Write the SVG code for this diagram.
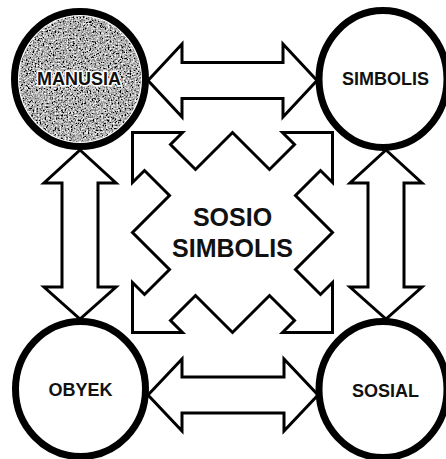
<svg xmlns="http://www.w3.org/2000/svg" width="446" height="459" viewBox="0 0 446 459">
  <defs>
    <style>
      .node { fill: #ffffff; stroke: #000000; stroke-width: 7; }
      .link { fill: #ffffff; stroke: #000000; stroke-width: 3; stroke-linejoin: miter; }
      .label { font-family: "Liberation Sans", Arial, sans-serif; font-weight: bold; font-size: 18px; fill: #111111; text-anchor: middle; }
      .big { font-size: 25px; }
      .halo { stroke: #ffffff; stroke-width: 3; paint-order: stroke; stroke-linejoin: round; }
    </style>
    <!-- coarse grey grain for the shaded node -->
    <filter id="grain" x="0" y="0" width="100%" height="100%">
      <feTurbulence type="fractalNoise" baseFrequency="0.6" numOctaves="3" seed="7" result="noise"/>
      <feColorMatrix in="noise" type="matrix" values="0.33 0.33 0.33 0 0  0.33 0.33 0.33 0 0  0.33 0.33 0.33 0 0  0 0 0 0 1"/>
      <feComponentTransfer>
        <feFuncR type="linear" slope="3.8" intercept="-1.45"/>
        <feFuncG type="linear" slope="3.8" intercept="-1.45"/>
        <feFuncB type="linear" slope="3.8" intercept="-1.45"/>
      </feComponentTransfer>
      <feComposite operator="in" in2="SourceGraphic"/>
    </filter>
  </defs>

  <rect width="446" height="459" fill="#ffffff"/>

  <!-- double-headed block arrows between the outer nodes -->
  <g id="connectors">
    <path class="link" d="M148,80.5 L182,44 V62.5 H283 V44 L317,80.5 L283,117 V98.5 H182 V117 Z"/>
    <path class="link" d="M148,395 L182,359 V377 H284 V359 L318,395 L284,431 V413 H182 V431 Z"/>
    <path class="link" d="M80,150 L116,183 H98 V287 H116 L80,319 L44,287 H62 V183 H44 Z"/>
    <path class="link" d="M386,150 L422,183 H404 V287 H422 L386,319 L350,287 H368 V183 H350 Z"/>
  </g>

  <!-- central four-way star -->
  <g id="sosio-simbolis">
    <path class="link" transform="translate(232.5,232.5)" d="M-100,-100 H-50 L-62,-88 L-37,-63 L0,-100 L37,-63 L62,-88 L50,-100 H100 V-50 L88,-62 L63,-37 L100,0 L63,37 L88,62 L100,50 V100 H50 L62,88 L37,63 L0,100 L-37,63 L-62,88 L-50,100 H-100 V50 L-88,62 L-63,37 L-100,0 L-63,-37 L-88,-62 L-100,-50 Z"/>
    <text class="label big" x="232.5" y="226">SOSIO</text>
    <text class="label big" x="232.5" y="257">SIMBOLIS</text>
  </g>

  <g id="manusia">
    <ellipse class="node" cx="80" cy="79" rx="65.5" ry="67.5"/>
    <ellipse cx="80" cy="79" rx="61" ry="63" fill="#000000" filter="url(#grain)"/>
    <text class="label halo" x="79" y="85">MANUSIA</text>
  </g>

  <g id="simbolis">
    <ellipse class="node" cx="383" cy="79" rx="64" ry="68.5"/>
    <text class="label" x="385.5" y="85">SIMBOLIS</text>
  </g>

  <g id="obyek">
    <ellipse class="node" cx="80.5" cy="389" rx="65" ry="67.5"/>
    <text class="label" x="80.5" y="396">OBYEK</text>
  </g>

  <g id="sosial">
    <ellipse class="node" cx="383" cy="389.5" rx="64" ry="68"/>
    <text class="label" x="385.5" y="397">SOSIAL</text>
  </g>
</svg>
